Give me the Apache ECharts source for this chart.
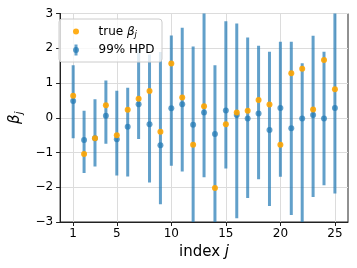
<!DOCTYPE html>
<html><head><meta charset="utf-8">
<script src="https://cdn.jsdelivr.net/npm/echarts@6/dist/echarts.min.js"></script>
<style>html,body{margin:0;padding:0;background:#fff}#c{width:357px;height:268px}</style>
</head><body><div id="c"></div>
<script>
var indices = [1,2,3,4,5,6,7,8,9,10,11,12,13,14,15,16,17,18,19,20,21,22,23,24,25];
var trueBeta = [0.63,-1.04,-0.59,0.36,-0.50,0.23,0.55,0.77,-0.40,1.56,0.58,-0.78,0.33,-2.02,-0.19,0.15,0.20,0.51,0.38,-0.78,1.28,1.41,0.24,1.66,0.82];
var postMean = [0.48,-0.64,-0.59,0.06,-0.62,-0.26,0.39,-0.19,-0.79,0.27,0.39,-0.20,0.15,-0.47,0.21,0.08,-0.02,0.12,-0.35,0.28,-0.30,-0.02,0.08,-0.02,0.28];
var hpdLow = [-0.59,-1.59,-1.40,-0.75,-1.66,-1.69,-0.61,-1.86,-2.49,-1.38,-1.55,-3.3,-1.71,-3.3,-1.46,-2.89,-2.31,-1.77,-2.54,-1.70,-2.80,-3.3,-2.28,-1.94,-2.18];
var hpdHigh = [1.51,0.20,0.53,1.07,0.78,0.86,2.01,1.82,1.89,2.37,2.59,2.05,3.3,1.51,2.78,2.71,2.31,2.07,1.90,2.19,2.19,1.57,2.36,1.90,3.05];
var xTicks = [1,5,10,15,20,25];

var FONT = 'DejaVu Sans';
var BLUE = '#1f77b4', ORANGE = '#ffa500';
var chart = echarts.init(document.getElementById('c'), null, {renderer:'canvas'});

var errData = indices.map(function(x,i){ return [x, hpdLow[i], hpdHigh[i]]; });
var meanData = indices.map(function(x,i){ return [x, postMean[i]]; });
var trueData = indices.map(function(x,i){ return [x, trueBeta[i]]; });
var gridData = xTicks.map(function(t){ return [t]; });

function minus(v){ return String(v).replace('-', '\u2212'); }

chart.setOption({
  animation: false,
  textStyle: {fontFamily: FONT},
  grid: {left: 53, right: 9, top: 13.5, bottom: 46, show: true, borderColor: '#222', borderWidth: 1, backgroundColor: 'transparent'},
  xAxis: {
    type: 'value', min: -0.2, max: 26.2,
    axisLine: {show: true, onZero: false, lineStyle: {color: '#222', width: 1}},
    axisTick: {show: true, length: 4, customValues: xTicks, lineStyle: {color: '#222'}},
    axisLabel: {customValues: xTicks, color: '#000', fontSize: 12, fontFamily: FONT, margin: 6, formatter: function(v){ return minus(v); }},
    splitLine: {show: false},
    name: '{a|index }{b|j}', nameLocation: 'middle', nameGap: 17,
    nameTextStyle: {color: '#000', fontSize: 15, fontFamily: FONT, verticalAlign: 'top',
      rich: {a: {fontSize: 15, fontFamily: FONT, color: '#000'}, b: {fontSize: 15, fontFamily: FONT, fontStyle: 'italic', color: '#000'}}}
  },
  yAxis: {
    type: 'value', min: -3, max: 3, interval: 1,
    axisLine: {show: true, onZero: false, lineStyle: {color: '#222', width: 1}},
    axisTick: {show: true, length: 4, lineStyle: {color: '#222'}},
    axisLabel: {color: '#000', fontSize: 12, fontFamily: FONT, margin: 7, formatter: function(v){ return minus(v); }},
    splitLine: {show: true, lineStyle: {color: '#dcdcdc', width: 1}},
    name: '{b|\u03b2}{s|j}', nameLocation: 'middle', nameGap: 28, nameRotate: 90,
    nameTextStyle: {color: '#000', fontSize: 15,
      rich: {b: {fontSize: 15, fontFamily: FONT, fontStyle: 'italic', color: '#000'},
             s: {fontSize: 10, fontFamily: FONT, fontStyle: 'italic', color: '#000', padding: [8,0,0,0]}}}
  },
  series: [
    {
      type: 'custom', z: 1, silent: true, data: gridData, clip: true,
      renderItem: function(params, api){
        var x = api.value(0);
        var p1 = api.coord([x, -3]);
        var p2 = api.coord([x, 3]);
        var px = Math.round(p1[0]) + 0.5;
        return {type: 'line', shape: {x1: px, y1: p1[1], x2: px, y2: p2[1]},
          style: {stroke: '#dcdcdc', lineWidth: 1}};
      },
      encode: {x: 0}
    },
    {
      type: 'custom', z: 2, clip: true, data: errData,
      renderItem: function(params, api){
        var p1 = api.coord([api.value(0), api.value(1)]);
        var p2 = api.coord([api.value(0), api.value(2)]);
        return {type: 'line', shape: {x1: p1[0], y1: p1[1], x2: p2[0], y2: p2[1]},
          style: {stroke: BLUE, lineWidth: 3, opacity: 0.7}};
      },
      encode: {x: 0, y: [1,2]}
    },
    {
      type: 'scatter', z: 3, data: meanData, symbolSize: 6,
      itemStyle: {color: BLUE, opacity: 0.7}
    },
    {
      type: 'scatter', z: 4, data: trueData, symbolSize: 6,
      itemStyle: {color: ORANGE, opacity: 0.9}
    }
  ],
  graphic: [
    {type: 'rect', z: 100, shape: {x: 59, y: 19, width: 103, height: 43, r: 3},
      style: {fill: 'rgba(255,255,255,0.8)', stroke: '#cccccc', lineWidth: 1}},
    {type: 'circle', z: 101, shape: {cx: 76, cy: 31.5, r: 3}, style: {fill: ORANGE, opacity: 0.9}},
    {type: 'line', z: 101, shape: {x1: 76, y1: 44.5, x2: 76, y2: 55.5}, style: {stroke: BLUE, lineWidth: 3, opacity: 0.7}},
    {type: 'circle', z: 102, shape: {cx: 76, cy: 50, r: 3}, style: {fill: BLUE, opacity: 0.7}},
    {type: 'text', z: 101, x: 98.5, y: 31.5,
      style: {text: '{t|true }{b|\u03b2}{s|j}', verticalAlign: 'middle', fill: '#000',
        rich: {t: {fontSize: 12, fontFamily: FONT, fill: '#000'},
               b: {fontSize: 12, fontFamily: FONT, fontStyle: 'italic', fill: '#000'},
               s: {fontSize: 8.5, fontFamily: FONT, fontStyle: 'italic', fill: '#000', padding: [6,0,0,0]}}}},
    {type: 'text', z: 101, x: 98.5, y: 50,
      style: {text: '99% HPD', verticalAlign: 'middle', fill: '#000', fontSize: 12, fontFamily: FONT}}
  ]
});
</script>
</body></html>
